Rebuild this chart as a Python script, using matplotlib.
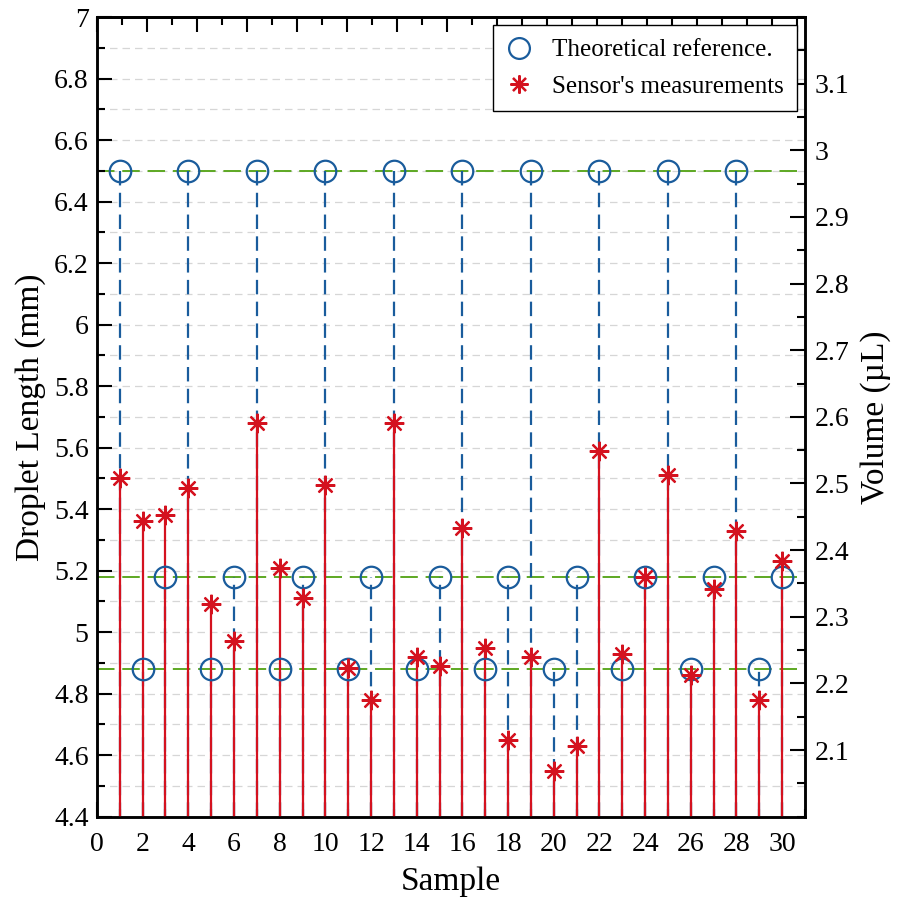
import matplotlib

matplotlib.use("Agg")
import matplotlib.pyplot as plt
import numpy as np
from matplotlib.lines import Line2D
from matplotlib.ticker import FormatStrFormatter, MultipleLocator

# Samples and droplet lengths (mm)
samples = np.arange(1, 31)
reference = [6.5, 4.88, 5.18] * 10
measured = [
    5.50, 5.36, 5.38, 5.47, 5.09, 4.97, 5.68, 5.21, 5.11, 5.48,
    4.885, 4.78, 5.68, 4.92, 4.89, 5.34, 4.95, 4.65, 4.92, 4.55,
    4.63, 5.59, 4.93, 5.18, 5.51, 4.86, 5.14, 5.33, 4.78, 5.23,
]
levels = [6.5, 5.18, 4.88]

y_min, y_max = 4.4, 7.0
vol_min, vol_max = 2.0, 3.2

BLUE = "#1a5c9c"
RED = "#d4121f"
GREEN = "#5da823"

plt.rcParams["font.family"] = ["Liberation Serif", "DejaVu Serif"]

fig = plt.figure(figsize=(8.97, 9.01), dpi=100)
ax = fig.add_axes([0.1081, 0.0936, 0.7893, 0.8875])

# light dashed horizontal grid, kept under everything
for g in np.arange(4.5, 7.0, 0.1):
    ax.axhline(g, color="#d6d6d6", lw=0.9, ls=(0, (6, 4)), zorder=0.5)

for lv in levels:
    ax.axhline(lv, color=GREEN, lw=1.4, ls=(0, (9, 4)), zorder=1)

ax.vlines(samples, y_min, reference, colors=BLUE, lw=1.6,
          linestyles=(0, (6.5, 3.3)), zorder=2)
ax.vlines(samples, y_min, measured, colors=RED, lw=1.6, zorder=3)
ax.plot(samples, reference, ls="none", marker="o", ms=15.5, mfc="none",
        mec=BLUE, mew=1.6, zorder=4)
ax.plot(samples, measured, ls="none", marker=(8, 2, 0), ms=14,
        mec=RED, mew=1.6, zorder=5)

ax.set_xlim(0, 31)
ax.set_ylim(y_min, y_max)
ax.xaxis.set_major_locator(MultipleLocator(2))
ax.xaxis.set_minor_locator(MultipleLocator(1))
ax.yaxis.set_major_locator(MultipleLocator(0.2))
ax.yaxis.set_minor_locator(MultipleLocator(0.1))
ax.yaxis.set_major_formatter(FormatStrFormatter("%g"))
ax.xaxis.set_major_formatter(FormatStrFormatter("%g"))
ax.set_axisbelow(False)
ax.tick_params(which="both", direction="in", top=False, right=False,
               width=1.5, labelsize=20, pad=6)
ax.tick_params(axis="x", which="both", pad=11)
ax.tick_params(which="major", length=11)
ax.tick_params(which="minor", length=5.5)
for sp in ax.spines.values():
    sp.set_linewidth(1.8)

# top edge carries its own tick spacing
top = ax.secondary_xaxis("top", functions=(lambda x: x * 28.32 / 31,
                                           lambda x: x * 31 / 28.32))
top.xaxis.set_major_locator(MultipleLocator(2))
top.xaxis.set_minor_locator(MultipleLocator(1))
top.tick_params(which="both", direction="in", width=1.5, labeltop=False)
top.tick_params(which="major", length=11)
top.tick_params(which="minor", length=5.5)
top.spines["top"].set_linewidth(1.8)

ax.set_xlabel("Sample", fontsize=24, labelpad=7)
ax.set_ylabel("Droplet Length (mm)", fontsize=24, labelpad=6)

ax2 = ax.twinx()
ax2.set_ylim(vol_min, vol_max)
ax2.yaxis.set_minor_locator(MultipleLocator(0.05))
ax2.yaxis.set_major_formatter(FormatStrFormatter("%g"))
ax2.set_yticks(np.round(np.arange(2.1, 3.11, 0.1), 2))
ax2.tick_params(which="both", direction="in", width=1.5, labelsize=20, pad=7)
ax2.tick_params(which="major", length=11)
ax2.tick_params(which="minor", length=5.5)
for sp in ax2.spines.values():
    sp.set_linewidth(1.8)
ax2.set_ylabel("Volume (µL)", fontsize=24, labelpad=8)

handles = [
    Line2D([], [], ls="none", marker="o", ms=15, mfc="none", mec=BLUE, mew=1.6),
    Line2D([], [], ls="none", marker=(8, 2, 0), ms=13, mec=RED, mew=1.6),
]
leg = ax2.legend(handles, ["Theoretical reference.", "Sensor's measurements"],
                 loc="upper right", bbox_to_anchor=(0.989, 0.99), fontsize=18,
                 fancybox=False, framealpha=1, edgecolor="black",
                 handlelength=1.0, handletextpad=0.8, borderpad=0.55,
                 labelspacing=0.55, borderaxespad=0)
leg.get_frame().set_linewidth(1.0)

fig.savefig("out.png", dpi=100)
